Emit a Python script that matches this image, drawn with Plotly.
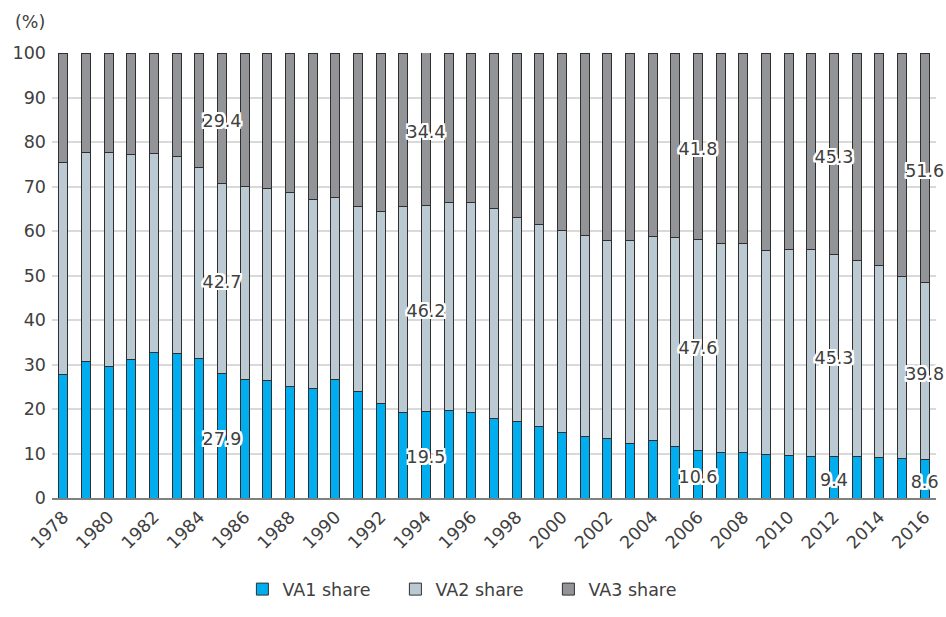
import plotly.graph_objects as go

years = list(range(1978, 2017))

va1 = [27.7, 30.7, 29.6, 31.2, 32.8, 32.5, 31.4, 27.9, 26.6, 26.3,
       25.1, 24.5, 26.6, 24.0, 21.3, 19.3, 19.5, 19.7, 19.3, 17.9,
       17.3, 16.1, 14.8, 13.9, 13.3, 12.3, 12.9, 11.6, 10.6, 10.3,
       10.3, 9.8, 9.5, 9.3, 9.4, 9.3, 9.1, 8.8, 8.6]

va2 = [47.6, 47.0, 48.1, 46.0, 44.6, 44.3, 42.9, 42.7, 43.5, 43.3,
       43.5, 42.6, 41.0, 41.4, 43.0, 46.1, 46.2, 46.7, 47.2, 47.1,
       45.7, 45.4, 45.4, 45.0, 44.5, 45.6, 45.8, 47.0, 47.6, 46.8,
       46.8, 45.9, 46.3, 46.5, 45.3, 44.1, 43.1, 40.9, 39.8]

va3 = [24.7, 22.3, 22.3, 22.8, 22.6, 23.2, 25.7, 29.4, 29.9, 30.4,
       31.4, 32.9, 32.4, 34.6, 35.7, 34.6, 34.4, 33.6, 33.5, 35.0,
       37.0, 38.5, 39.8, 41.1, 42.2, 42.1, 41.3, 41.4, 41.8, 42.9,
       42.9, 44.3, 44.2, 44.2, 45.3, 46.6, 47.8, 50.3, 51.6]

label_years = [1985, 1994, 2006, 2012, 2016]
y_ticks = [0, 10, 20, 30, 40, 50, 60, 70, 80, 90, 100]
x_ticks = list(range(1978, 2017, 2))

series_names = ["VA1 share", "VA2 share", "VA3 share"]
colors = ["#00ADEF", "#BBCAD2", "#929497"]

FONT = "DejaVu Sans"
TXT = "#404040"
FS = 17.5

fig = go.Figure()
xcat = [str(y) for y in years]
for name, vals, col in zip(series_names, [va1, va2, va3], colors):
    fig.add_trace(go.Bar(
        x=xcat, y=vals, name=name,
        marker=dict(color=col, line=dict(color="#2f2f2f", width=1)),
        width=0.4,
    ))

# data labels near segment centres
lx, ly, lt = [], [], []
for yr in label_years:
    i = years.index(yr)
    base = 0
    for vals in [va1, va2, va3]:
        lx.append(str(yr))
        ly.append(base + vals[i] / 2 - 1.0)
        lt.append(f"{vals[i]:.1f}")
        base += vals[i]

halo = ", ".join(f"{dx}px {dy}px 0 #fff" for dx in (-2, -1, 0, 1, 2) for dy in (-2, -1, 0, 1, 2) if dx or dy)
fig.add_trace(go.Scatter(
    x=lx, y=ly, text=lt, mode="text", showlegend=False, hoverinfo="skip",
    cliponaxis=False,
    textfont=dict(family=FONT, size=FS, color=TXT, shadow=halo),
))

fig.update_layout(
    width=946, height=617,
    barmode="stack",
    plot_bgcolor="white", paper_bgcolor="white",
    margin=dict(l=52, r=10, t=53, b=106),
    font=dict(family=FONT, size=FS, color=TXT),
    showlegend=True,
    legend=dict(orientation="h", x=0.475, xanchor="center", y=-0.205, yanchor="middle",
                font=dict(family=FONT, size=FS, color=TXT), entrywidth=108,
                traceorder="normal"),
    annotations=[dict(text="(%)", xref="paper", yref="paper", x=-0.025, y=1.07,
                      xanchor="center", yanchor="middle", showarrow=False,
                      font=dict(family=FONT, size=FS, color=TXT))],
)
fig.update_xaxes(
    type="category", tickmode="array", tickvals=[str(t) for t in x_ticks],
    ticktext=[str(t) for t in x_ticks], tickangle=-45,
    showgrid=False, showline=True, linecolor="#808080", linewidth=2,
    range=[-0.5, len(years) - 0.5], ticks="", automargin=False,
    tickfont=dict(family=FONT, size=FS, color=TXT),
)
fig.update_yaxes(
    range=[0, 100], tickvals=y_ticks, showgrid=True, gridcolor="#d9d9d9",
    gridwidth=1.5, zeroline=False, showline=False, ticks="",
    ticklabelstandoff=5, automargin=False,
    tickfont=dict(family=FONT, size=FS, color=TXT),
)

fig.write_html(
    "out.html",
    config={"displayModeBar": False},
    post_script="document.body.style.margin='0';document.documentElement.style.overflow='hidden';",
)
